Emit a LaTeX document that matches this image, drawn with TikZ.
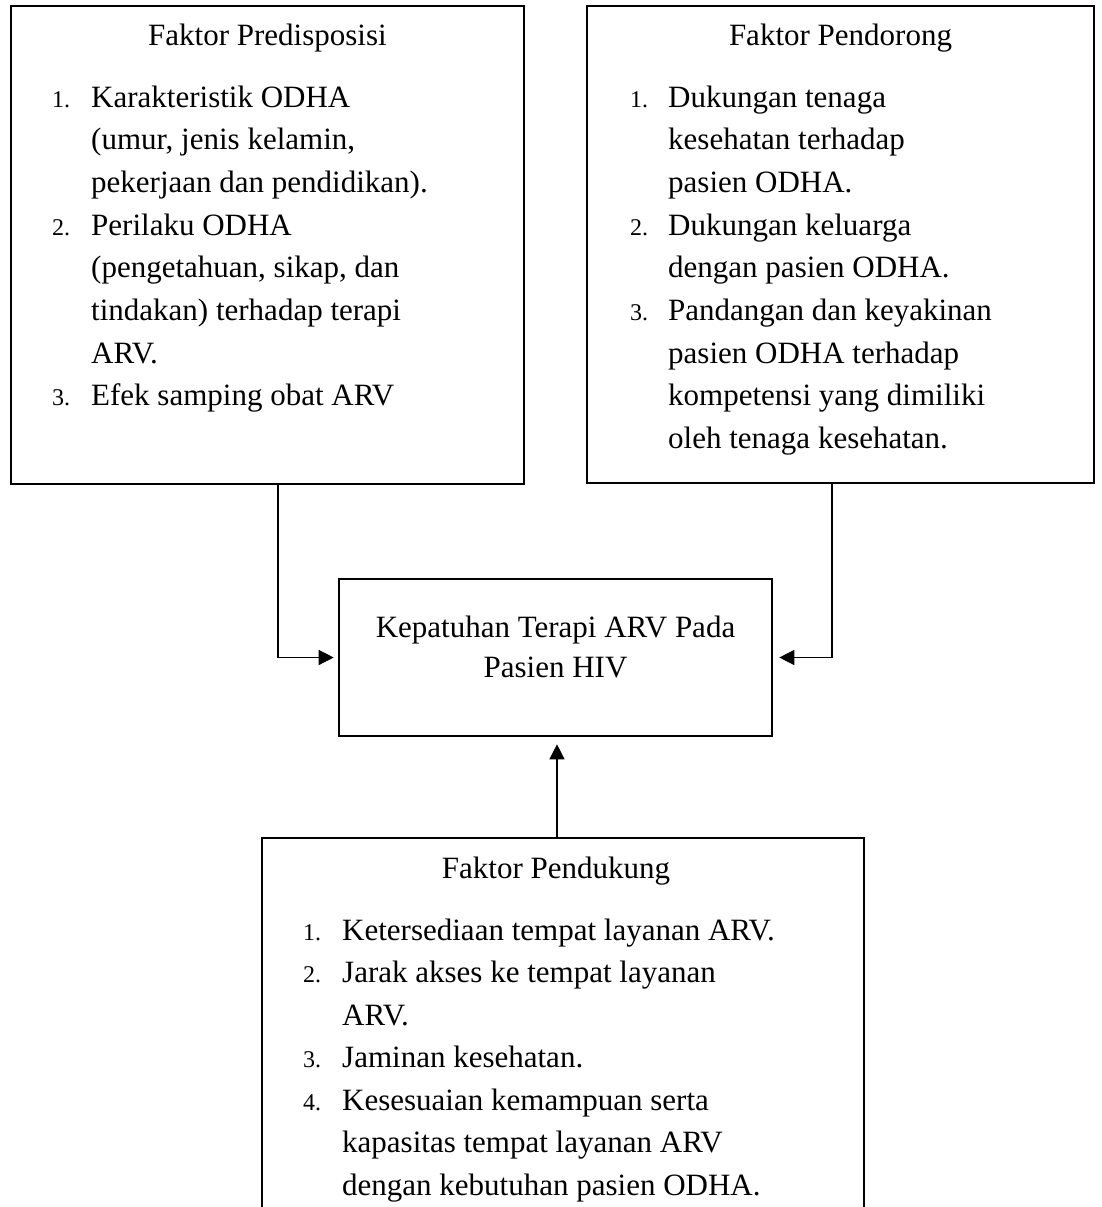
\documentclass[tikz,border=0pt]{standalone}
\usepackage{fontspec}
\setmainfont{Liberation Serif}
\usetikzlibrary{arrows.meta}
\newcommand\mainfs{\fontsize{31pt}{38pt}\selectfont}
\newcommand\numfs{\fontsize{24pt}{28pt}\selectfont}
\begin{document}
\begin{tikzpicture}[x=1pt,y=-1pt,
  box/.style={draw, line width=2.6pt, rectangle, inner sep=0pt},
  ln/.style={anchor=base west, inner sep=0pt, font=\mainfs},
  nm/.style={anchor=base west, inner sep=0pt, font=\numfs},
  ttl/.style={anchor=base, inner sep=0pt, font=\mainfs},
  conn/.style={line width=1.3pt, -{Triangle[length=15pt,width=15pt]}}]
\useasboundingbox (0,0) rectangle (1101,1207);
\fill[white] (0,0) rectangle (1101,1207);

% boxes
\node[box, minimum width=513pt, minimum height=478pt] (pred) at (267.5,245) {};
\node[box, minimum width=507pt, minimum height=477pt] (dor) at (840.5,244.5) {};
\node[box, minimum width=433pt, minimum height=157pt] (out) at (555.5,657.5) {};
\node[box, minimum width=602pt, minimum height=402pt] (duk) at (563,1039) {};

% left box text
\node[ttl] (predT) at (267.5,46) {Faktor Predisposisi};
\node[nm] (predN1) at (52,107) {1.};
\node[ln] (predL1) at (91,107) {Karakteristik ODHA};
\node[ln] (predL2) at (91,149.7) {(umur, jenis kelamin,};
\node[ln] (predL3) at (91,192.4) {pekerjaan dan pendidikan).};
\node[nm] (predN2) at (52,235.1) {2.};
\node[ln] (predL4) at (91,235.1) {Perilaku ODHA};
\node[ln] (predL5) at (91,277.8) {(pengetahuan, sikap, dan};
\node[ln] (predL6) at (91,320.5) {tindakan) terhadap terapi};
\node[ln] (predL7) at (91,363.2) {ARV.};
\node[nm] (predN3) at (52,405.9) {3.};
\node[ln] (predL8) at (91,405.9) {Efek samping obat ARV};

% right box text
\node[ttl] (dorT) at (840.5,46) {Faktor Pendorong};
\node[nm] (dorN1) at (630,107) {1.};
\node[ln] (dorL1) at (668,107) {Dukungan tenaga};
\node[ln] (dorL2) at (668,149.7) {kesehatan terhadap};
\node[ln] (dorL3) at (668,192.4) {pasien ODHA.};
\node[nm] (dorN2) at (630,235.1) {2.};
\node[ln] (dorL4) at (668,235.1) {Dukungan keluarga};
\node[ln] (dorL5) at (668,277.8) {dengan pasien ODHA.};
\node[nm] (dorN3) at (630,320.5) {3.};
\node[ln] (dorL6) at (668,320.5) {Pandangan dan keyakinan};
\node[ln] (dorL7) at (668,363.2) {pasien ODHA terhadap};
\node[ln] (dorL8) at (668,405.9) {kompetensi yang dimiliki};
\node[ln] (dorL9) at (668,448.6) {oleh tenaga kesehatan.};

% centre box text
\node[ttl] (outL1) at (555.5,637) {Kepatuhan Terapi ARV Pada};
\node[ttl] (outL2) at (555.5,677) {Pasien HIV};

% bottom box text
\node[ttl] (dukT) at (556,878) {Faktor Pendukung};
\node[nm] (dukN1) at (303,940) {1.};
\node[ln] (dukL1) at (342,940) {Ketersediaan tempat layanan ARV.};
\node[nm] (dukN2) at (303,982.5) {2.};
\node[ln] (dukL2) at (342,982.5) {Jarak akses ke tempat layanan};
\node[ln] (dukL3) at (342,1025) {ARV.};
\node[nm] (dukN3) at (303,1067.5) {3.};
\node[ln] (dukL4) at (342,1067.5) {Jaminan kesehatan.};
\node[nm] (dukN4) at (303,1110) {4.};
\node[ln] (dukL5) at (342,1110) {Kesesuaian kemampuan serta};
\node[ln] (dukL6) at (342,1152.5) {kapasitas tempat layanan ARV};
\node[ln] (dukL7) at (342,1195) {dengan kebutuhan pasien ODHA.};

% connectors
\draw[conn, shorten >=4pt] ([xshift=10.5pt]pred.south) |- (out.west);
\draw[conn, shorten >=6pt] ([xshift=-8.5pt]dor.south) |- (out.east);
\draw[conn, shorten >=7pt] ([xshift=-6pt]duk.north) -- ([xshift=1.5pt]out.south);
\end{tikzpicture}
\end{document}
